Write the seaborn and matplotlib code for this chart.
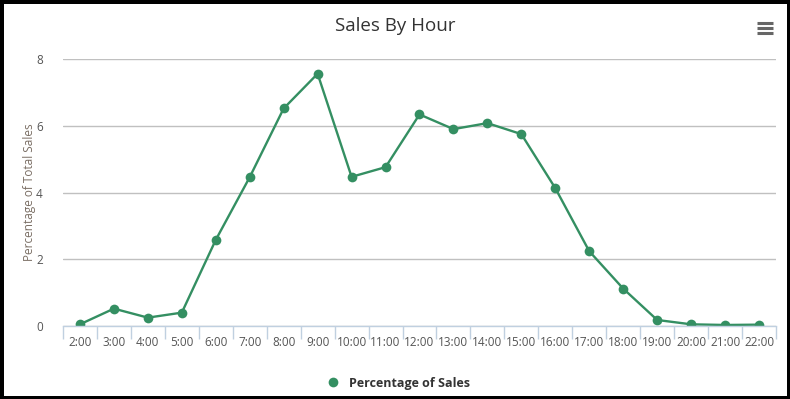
import matplotlib
matplotlib.use("Agg")
import matplotlib.pyplot as plt
import numpy as np
import pandas as pd
import seaborn as sns
from matplotlib.lines import Line2D
from matplotlib.ticker import FixedLocator


HOURS = ["2:00", "3:00", "4:00", "5:00", "6:00", "7:00", "8:00", "9:00", "10:00", "11:00",
         "12:00", "13:00", "14:00", "15:00", "16:00", "17:00", "18:00", "19:00", "20:00",
         "21:00", "22:00"]
PCT_SALES = [0.05, 0.52, 0.25, 0.40, 2.58, 4.46, 6.52, 7.56, 4.47, 4.76,
             6.34, 5.90, 6.08, 5.75, 4.13, 2.24, 1.12, 0.18, 0.05, 0.03, 0.04]
Y_TICKS = [0, 2, 4, 6, 8]

GREEN = "#348f62"

sns.set_style("white")
plt.rcParams["font.family"] = ["Open Sans", "DejaVu Sans"]

df = pd.DataFrame({"pos": np.arange(len(HOURS)), "pct": PCT_SALES})

fig = plt.figure(figsize=(7.9, 3.99), dpi=100)
fig.patch.set_edgecolor("black")
fig.patch.set_linewidth(5)
ax = fig.add_axes([0.0797, 0.183, 0.9026, 0.669])

sns.lineplot(data=df, x="pos", y="pct", ax=ax, color=GREEN, linewidth=1.7,
             marker="o", markersize=7, markeredgewidth=0, legend=False)

ax.set_xlim(-0.5, len(HOURS) - 0.5)
ax.set_ylim(0, 8)
ax.set_yticks(Y_TICKS)
ax.set_xticks(np.arange(len(HOURS)))
ax.set_xticklabels(HOURS)
ax.xaxis.set_minor_locator(FixedLocator(np.arange(-0.5, len(HOURS), 1.0)))
ax.tick_params(axis="x", which="major", bottom=False, labelsize=8.5, labelcolor="#555555", pad=4)
ax.tick_params(axis="x", which="minor", bottom=True, length=9, color="#c0d0e0", width=1,
               direction="out")
ax.tick_params(axis="y", left=False, labelsize=8.5, labelcolor="#555555", pad=11)
ax.grid(axis="y", color="#c0c0c0", linewidth=1)
for side in ["top", "right", "left"]:
    ax.spines[side].set_visible(False)
ax.spines["bottom"].set_color("#c0d0e0")
ax.spines["bottom"].set_linewidth(1)
ax.set_xlabel("")
ax.set_ylabel("Percentage of Total Sales", fontsize=8.5, color="#7a6e64")
ax.yaxis.set_label_coords(-0.038, 0.5)

fig.text(0.5, 0.935, "Sales By Hour", ha="center", va="center", fontsize=13.5, color="#333333")

# export menu icon
for yy in [0.918, 0.930, 0.942]:
    fig.add_artist(Line2D([0.958, 0.978], [yy, yy], color="#666666", linewidth=2.2,
                          solid_capstyle="butt"))

handle = Line2D([], [], color=GREEN, marker="o", linestyle="none", markersize=7,
                markeredgewidth=0)
fig.legend([handle], ["Percentage of Sales"], loc="center", bbox_to_anchor=(0.5, 0.04),
           frameon=False, prop={"family": "Open Sans", "weight": "bold", "size": 9},
           handletextpad=0.3, labelcolor="#333333")

fig.savefig("out.png", dpi=100)
